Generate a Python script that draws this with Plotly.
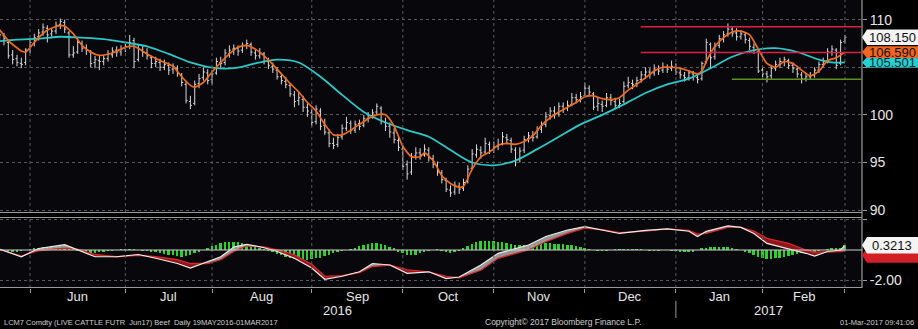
import numpy as np
import pandas as pd
import plotly.graph_objects as go

# ---------------- daily bars, LCM7 live cattle (19 May 2016 - 01 Mar 2017) ----------------
opens = [
    108.9, 108.6, 108.3, 107.6, 106.3, 105.9, 105.4, 105.5, 106.9, 107.5,
    108.2, 108.7, 109.1, 108.5, 108.8, 109.5, 109.7, 108.6, 106.3, 106.6,
    107.5, 107.0, 106.6, 105.5, 105.7, 105.6, 105.9, 106.3, 106.8, 106.6,
    107.0, 107.2, 107.8, 105.8, 106.8, 106.5, 106.0, 105.4, 105.5, 105.0,
    105.2, 104.8, 104.9, 104.2, 103.2, 101.4, 101.2, 103.3, 103.9, 104.4,
    103.7, 104.4, 105.5, 105.5, 106.4, 106.9, 107.0, 106.8, 107.3, 107.4,
    106.5, 106.2, 106.4, 105.6, 105.1, 104.7, 104.0, 103.5, 103.1, 102.1,
    101.5, 101.6, 100.8, 100.2, 99.3, 100.4, 98.9, 98.1, 97.0, 96.9,
    97.7, 98.6, 99.1, 98.4, 99.1, 98.9, 99.6, 99.9, 100.3, 100.7,
    99.2, 98.8, 98.1, 97.3, 96.4, 94.8, 94.0, 95.7, 96.0, 95.8,
    96.3, 95.4, 94.7, 93.9, 93.1, 92.1, 91.9, 92.5, 92.3, 93.0,
    94.4, 95.8, 96.3, 96.1, 96.9, 96.3, 96.7, 97.0, 97.6, 97.3,
    96.3, 95.3, 96.3, 97.5, 97.8, 97.7, 98.5, 99.0, 99.9, 100.4,
    100.1, 100.9, 100.7, 101.1, 101.8, 101.6, 102.0, 102.8, 102.2, 100.9,
    101.1, 101.0, 101.8, 101.4, 101.0, 101.4, 103.1, 103.3, 103.3, 103.7,
    104.2, 104.5, 104.4, 104.8, 104.7, 105.0, 104.9, 105.0, 104.4, 104.1,
    103.9, 104.3, 103.9, 103.8, 105.6, 107.4, 106.1, 107.3, 108.0, 108.5,
    109.0, 108.6, 108.2, 108.4, 107.8, 107.1, 106.6, 104.7, 104.3, 104.1,
    104.9, 105.3, 105.6, 105.7, 105.2, 104.8, 104.2, 103.8, 104.0, 104.2,
    104.7, 105.3, 105.7, 106.6, 106.8, 105.4, 107.7,
]
highs = [
    109.3, 109.0, 108.6, 107.9, 106.8, 106.3, 106.0, 107.0, 107.9, 108.5,
    109.0, 109.6, 109.4, 109.1, 109.8, 110.1, 110.0, 108.8, 107.2, 108.0,
    107.8, 107.4, 106.8, 106.2, 106.3, 106.3, 106.8, 107.1, 107.2, 107.3,
    107.7, 108.4, 108.1, 107.4, 107.3, 107.0, 106.2, 106.1, 105.9, 105.8,
    105.5, 105.4, 105.2, 104.4, 103.5, 102.0, 103.6, 104.3, 105.0, 104.8,
    104.7, 106.0, 106.1, 106.9, 107.3, 107.4, 107.3, 107.6, 107.9, 107.6,
    106.9, 107.0, 106.6, 106.0, 105.5, 105.0, 104.4, 104.0, 103.3, 102.5,
    102.4, 102.0, 101.2, 100.6, 101.0, 100.7, 99.6, 98.5, 97.6, 98.0,
    99.0, 99.8, 99.4, 99.4, 99.5, 100.0, 100.3, 100.6, 101.2, 100.9,
    99.7, 99.2, 98.6, 97.7, 96.8, 95.2, 96.0, 96.6, 96.5, 96.9,
    96.6, 95.8, 95.1, 94.2, 93.4, 92.6, 93.0, 92.9, 93.3, 94.7,
    96.4, 96.9, 96.7, 97.6, 97.2, 97.2, 97.5, 98.2, 98.0, 97.6,
    96.6, 96.6, 97.8, 98.2, 98.3, 98.8, 99.3, 100.3, 100.8, 100.9,
    101.3, 101.3, 101.5, 102.3, 102.2, 102.4, 103.4, 103.1, 102.4, 101.8,
    101.5, 102.3, 102.2, 101.8, 101.7, 103.5, 104.0, 103.7, 104.0, 104.6,
    105.0, 104.9, 105.3, 105.2, 105.5, 105.3, 105.7, 105.4, 104.8, 104.5,
    104.7, 104.6, 104.2, 105.6, 108.0, 107.6, 107.6, 108.4, 108.8, 109.6,
    109.3, 109.1, 108.9, 108.7, 108.1, 107.5, 106.8, 105.1, 104.6, 105.2,
    105.7, 106.0, 106.1, 105.9, 105.5, 105.0, 104.5, 104.4, 104.5, 105.0,
    105.6, 106.0, 107.0, 107.3, 107.0, 107.9, 108.4,
]
lows = [
    108.2, 107.9, 107.3, 105.9, 105.3, 105.1, 104.9, 105.2, 106.5, 107.2,
    107.8, 108.3, 107.6, 108.2, 108.5, 109.0, 108.6, 106.0, 106.0, 106.4,
    106.6, 106.3, 105.0, 104.9, 104.7, 105.2, 105.6, 106.0, 106.1, 106.2,
    106.6, 106.9, 104.9, 105.6, 106.1, 105.8, 104.9, 105.0, 104.6, 104.7,
    104.2, 104.3, 104.0, 103.0, 101.2, 100.6, 101.0, 102.8, 103.6, 103.2,
    103.2, 104.2, 104.8, 105.2, 106.0, 106.3, 106.2, 106.5, 106.9, 106.2,
    105.8, 105.9, 105.3, 104.8, 104.4, 103.7, 103.2, 102.8, 101.9, 100.8,
    101.0, 100.3, 99.8, 98.8, 99.0, 98.4, 97.9, 96.6, 96.4, 96.6,
    97.4, 98.3, 98.0, 98.1, 98.4, 98.7, 99.2, 99.6, 100.0, 99.0,
    98.3, 97.6, 97.0, 96.2, 94.2, 93.2, 93.7, 95.3, 95.3, 95.6,
    95.1, 94.4, 93.6, 92.8, 91.9, 91.4, 91.6, 91.7, 92.0, 92.8,
    94.2, 95.5, 95.4, 95.9, 95.9, 96.0, 96.3, 96.8, 96.9, 96.0,
    94.6, 95.0, 96.0, 97.1, 97.2, 97.5, 98.1, 98.7, 99.5, 99.6,
    99.8, 100.2, 100.4, 100.9, 101.2, 101.3, 101.8, 101.9, 100.5, 100.4,
    100.3, 100.8, 101.0, 100.6, 100.7, 101.2, 102.8, 102.7, 102.9, 103.4,
    103.8, 103.8, 104.1, 104.2, 104.4, 104.4, 104.6, 104.2, 103.8, 103.5,
    103.6, 103.6, 103.3, 103.6, 105.4, 104.9, 105.8, 107.0, 107.6, 108.2,
    108.2, 107.8, 107.9, 107.5, 106.8, 106.4, 104.4, 103.9, 103.4, 103.8,
    104.6, 104.9, 105.1, 104.8, 104.4, 103.9, 103.3, 103.5, 103.7, 103.9,
    104.4, 105.0, 105.4, 106.2, 104.8, 105.2, 107.5,
]
closes = [
    108.6, 108.4, 108.0, 106.2, 105.8, 105.5, 105.3, 106.8, 107.6, 108.1,
    108.6, 109.2, 108.4, 108.8, 109.4, 109.8, 109.0, 106.3, 106.5, 107.6,
    107.0, 106.8, 105.4, 105.8, 105.6, 105.9, 106.4, 106.7, 106.6, 106.9,
    107.2, 107.6, 105.6, 106.9, 106.6, 106.2, 105.4, 105.6, 105.0, 105.3,
    104.7, 105.0, 104.4, 103.4, 101.5, 101.0, 103.2, 103.8, 104.5, 103.6,
    104.3, 105.6, 105.4, 106.5, 106.8, 107.0, 106.7, 107.3, 107.5, 106.6,
    106.2, 106.5, 105.6, 105.2, 104.8, 104.0, 103.6, 103.2, 102.2, 101.4,
    101.8, 100.8, 100.4, 99.2, 100.6, 98.8, 98.2, 97.0, 96.8, 97.6,
    98.6, 99.2, 98.4, 99.0, 98.8, 99.6, 99.9, 100.2, 100.9, 99.3,
    98.8, 98.2, 97.4, 96.6, 94.6, 93.8, 95.6, 96.0, 95.8, 96.4,
    95.5, 94.8, 94.0, 93.2, 92.2, 91.8, 92.6, 92.2, 92.9, 94.3,
    95.9, 96.4, 96.0, 97.0, 96.2, 96.6, 96.9, 97.7, 97.4, 96.4,
    95.2, 96.2, 97.4, 97.8, 97.6, 98.4, 98.9, 99.8, 100.4, 100.0,
    100.9, 100.6, 101.0, 101.8, 101.6, 101.9, 102.8, 102.4, 100.8, 101.2,
    100.9, 101.8, 101.5, 101.0, 101.2, 103.0, 103.4, 103.2, 103.6, 104.2,
    104.5, 104.3, 104.8, 104.6, 105.0, 104.8, 105.1, 104.5, 104.2, 103.9,
    104.4, 104.0, 103.7, 105.4, 107.6, 106.0, 107.2, 108.0, 108.4, 109.0,
    108.6, 108.2, 108.5, 107.9, 107.2, 106.8, 104.6, 104.3, 104.0, 104.9,
    105.3, 105.6, 105.8, 105.2, 104.9, 104.3, 103.8, 104.0, 104.1, 104.7,
    105.3, 105.6, 106.6, 106.9, 105.2, 107.6, 108.15,
]

# moving averages, read at trading-day numbers
fast_day = [0, 1, 3, 6, 7, 9, 10, 12, 15, 16, 18, 20, 22, 24, 27, 30, 32, 35, 38, 41,
            43, 45, 46, 48, 50, 52, 54, 56, 58, 60, 62, 64, 66, 68, 70, 72, 74, 76, 78, 80,
            82, 84, 86, 88, 90, 92, 94, 96, 98, 99, 101, 103, 105, 107, 108, 110, 112, 114, 116, 118,
            120, 122, 124, 126, 128, 130, 132, 134, 136, 138, 140, 142, 144, 146, 148, 150, 152, 154, 156, 158,
            160, 162, 163, 164, 166, 168, 170, 172, 174, 176, 178, 180, 182, 184, 186, 188, 190, 192, 194, 196]
fast_ma = [109.1, 108.9, 107.8, 106.7, 106.6, 107.6, 108.1, 108.9, 109.4, 109.3, 108.5, 107.3, 106.6, 106.25, 106.5, 107.1, 107.2, 106.4, 105.7, 105.1,
           104.0, 103.1, 102.9, 103.4, 104.5, 105.5, 106.4, 107.1, 107.3, 106.9, 106.2, 105.3, 104.3, 103.3, 102.4, 101.3, 100.4, 99.0, 97.9, 97.9,
           98.4, 99.0, 99.6, 100.0, 100.0, 98.8, 96.7, 95.6, 95.6, 96.0, 95.2, 93.6, 92.8, 92.4, 92.5, 94.3, 95.6, 96.1, 96.8, 97.0,
           96.9, 97.2, 97.8, 98.9, 99.7, 100.3, 100.8, 101.3, 101.9, 102.0, 101.7, 101.6, 101.8, 102.6, 103.2, 103.9, 104.6, 105.0, 105.0, 104.9,
           104.6, 104.3, 104.6, 105.6, 107.2, 108.1, 108.7, 108.8, 108.4, 106.9, 105.4, 105.0, 105.6, 105.4, 104.7, 104.1, 104.6, 105.7, 106.0, 106.59]

slow_day = [0, 5, 10, 15, 20, 25, 30, 35, 40, 45, 50, 55, 60, 65, 70, 75, 80, 85, 90, 95,
            100, 105, 110, 115, 120, 125, 130, 135, 140, 145, 150, 155, 160, 165, 170, 175, 180, 185, 190, 193, 196]
slow_ma = [107.7, 107.9, 108.0, 108.2, 108.1, 107.95, 107.6, 107.2, 106.4, 105.5, 104.95, 104.9, 105.4, 105.8, 105.5, 104.0, 102.1, 100.3, 99.2, 98.4,
           97.7, 96.3, 95.0, 94.7, 95.2, 96.4, 97.7, 99.0, 100.0, 101.1, 102.3, 103.2, 103.8, 104.9, 106.1, 106.8, 107.0, 106.6, 105.8, 105.5, 105.501]

# reference levels
resistance = [109.25, 106.55]
support = 103.75

# MACD panel
macd_day = [0, 1, 6, 10, 16, 19, 23, 28, 33, 37, 42, 45, 49, 52, 55, 58, 62, 65, 69, 73,
            76, 80, 84, 87, 91, 95, 100, 104, 107, 112, 116, 123, 127, 132, 136, 140, 144, 150, 155, 160,
            162, 164, 169, 172, 175, 178, 183, 187, 189, 192, 195, 196]
macd_line = [0.1, 0.05, -0.45, 0.1, 0.35, 0.0, -0.45, -0.45, -0.3, -0.55, -0.9, -1.2, -0.8, -0.45, 0.2, 0.38, 0.15, -0.1, -0.55, -1.2,
             -1.95, -1.75, -1.45, -0.9, -1.0, -1.55, -1.45, -1.9, -1.8, -1.0, -0.22, 0.33, 0.9, 1.33, 1.55, 1.3, 1.1, 1.3, 1.4, 1.25,
             0.9, 1.25, 1.6, 1.5, 1.1, 0.44, 0.1, -0.22, -0.4, -0.1, 0.0, 0.3213]
signal_line = [0.1, 0.05, -0.4, -0.05, 0.12, 0.05, -0.3, -0.45, -0.35, -0.45, -0.65, -0.9, -0.9, -0.65, -0.1, 0.27, 0.2, 0.0, -0.33, -0.95,
               -1.75, -1.7, -1.5, -1.1, -1.0, -1.33, -1.45, -1.75, -1.85, -1.35, -0.55, 0.0, 0.55, 1.1, 1.45, 1.35, 1.15, 1.25, 1.4, 1.3,
               1.05, 1.1, 1.5, 1.5, 1.25, 0.78, 0.44, 0.0, -0.15, -0.15, -0.1, -0.05]
macd_hist = [
    0.05, 0.0, -0.05, -0.1, -0.1, -0.1, -0.05, 0.0, 0.05, 0.1,
    0.15, 0.2, 0.22, 0.25, 0.28, 0.3, 0.25, 0.15, 0.05, -0.05,
    -0.1, -0.15, -0.2, -0.18, -0.12, -0.08, -0.05, -0.03, 0.0, 0.02,
    0.03, 0.03, 0.02, 0.0, -0.03, -0.05, -0.1, -0.15, -0.2, -0.25,
    -0.3, -0.35, -0.4, -0.45, -0.4, -0.35, -0.2, -0.1, 0.0, 0.1,
    0.25, 0.35, 0.45, 0.5, 0.55, 0.55, 0.5, 0.45, 0.4, 0.3,
    0.2, 0.1, 0.05, -0.05, -0.15, -0.25, -0.35, -0.45, -0.55, -0.6,
    -0.65, -0.67, -0.65, -0.6, -0.55, -0.5, -0.4, -0.3, -0.2, -0.1,
    -0.05, 0.0, 0.05, 0.15, 0.25, 0.35, 0.42, 0.45, 0.45, 0.4,
    0.3, 0.2, 0.1, -0.1, -0.2, -0.3, -0.33, -0.3, -0.2, -0.1,
    -0.02, 0.0, 0.02, -0.05, -0.15, -0.2, -0.15, -0.05, 0.1, 0.25,
    0.4, 0.5, 0.58, 0.62, 0.62, 0.6, 0.55, 0.5, 0.45, 0.4,
    0.35, 0.3, 0.3, 0.32, 0.35, 0.4, 0.42, 0.45, 0.45, 0.42,
    0.4, 0.38, 0.35, 0.3, 0.25, 0.2, 0.12, 0.05, 0.0, -0.02,
    -0.03, -0.02, 0.0, 0.02, 0.03, 0.05, 0.05, 0.04, 0.03, 0.02,
    0.0, -0.02, -0.03, -0.02, 0.0, 0.0, -0.02, -0.05, -0.1, -0.15,
    -0.15, -0.1, 0.0, 0.1, 0.15, 0.2, 0.2, 0.22, 0.2, 0.18,
    0.12, 0.05, 0.0, -0.1, -0.2, -0.35, -0.45, -0.55, -0.6, -0.6,
    -0.55, -0.5, -0.45, -0.4, -0.3, -0.25, -0.2, -0.15, -0.12, -0.1,
    -0.05, 0.0, 0.05, 0.1, 0.1, 0.15, 0.3,
]

month_names = ["Jan", "Feb", "Mar", "Apr", "May", "Jun", "Jul", "Aug", "Sep", "Oct", "Nov", "Dec"]
exchange_holidays = ["2016-05-30", "2016-07-04", "2016-09-05", "2016-11-24",
                     "2016-12-26", "2017-01-02", "2017-01-16", "2017-02-20"]

# ---------------- trading calendar ----------------
n = len(closes)
days = pd.bdate_range("2016-05-19", "2017-03-01")
days = days[~days.isin(pd.to_datetime(exchange_holidays))][:n]
tday = np.arange(n)

X_RANGE = [1.08, 199.93]
W, H = 918, 329
PLOT_RIGHT = 862 / W


def py(px):
    """pixel row (from top) -> paper y"""
    return 1 - px / H


month_start = [i for i in range(1, n) if days[i].month != days[i - 1].month]
year_start = [i for i in range(1, n) if days[i].year != days[i - 1].year]

BG = "#08080c"
TXT = "#e6e6e6"
FONT = "Liberation Sans, Arial, sans-serif"
GRID = "#5a5a5a"

fig = go.Figure()

# price bars
fig.add_trace(go.Ohlc(
    x=tday, open=opens, high=highs, low=lows, close=closes,
    increasing=dict(line=dict(color="#d8d8d8", width=1)),
    decreasing=dict(line=dict(color="#d8d8d8", width=1)),
    tickwidth=0.35, xaxis="x", yaxis="y", showlegend=False, hoverinfo="skip"))

fig.add_trace(go.Scatter(x=slow_day, y=slow_ma, mode="lines",
                         line=dict(color="#2ac8c8", width=1.8, shape="spline", smoothing=0.8),
                         xaxis="x", yaxis="y", showlegend=False, hoverinfo="skip"))
fig.add_trace(go.Scatter(x=fast_day, y=fast_ma, mode="lines",
                         line=dict(color="#f26a1b", width=1.7, shape="spline", smoothing=0.6),
                         xaxis="x", yaxis="y", showlegend=False, hoverinfo="skip"))

# ---------------- MACD panel ----------------
fig.add_trace(go.Bar(x=tday[:len(macd_hist)], y=macd_hist, width=0.45,
                     marker=dict(color="#27d427", line=dict(width=0)),
                     xaxis="x2", yaxis="y2", showlegend=False, hoverinfo="skip"))

# insert crossing points so the two fills change colour exactly where the lines cross
xs, ma_, sg_ = [], [], []
for i in range(len(macd_day)):
    if i > 0:
        d0 = macd_line[i - 1] - signal_line[i - 1]
        d1 = macd_line[i] - signal_line[i]
        if d0 * d1 < 0:
            t = d0 / (d0 - d1)
            xc = macd_day[i - 1] + t * (macd_day[i] - macd_day[i - 1])
            yc = macd_line[i - 1] + t * (macd_line[i] - macd_line[i - 1])
            xs.append(xc); ma_.append(yc); sg_.append(yc)
    xs.append(macd_day[i]); ma_.append(macd_line[i]); sg_.append(signal_line[i])
ma_ = np.array(ma_); sg_ = np.array(sg_)

for top, col in [(np.maximum(ma_, sg_), "rgba(165,165,165,0.9)"),
                 (np.minimum(ma_, sg_), "rgba(150,22,26,0.95)")]:
    fig.add_trace(go.Scatter(x=xs, y=sg_, mode="lines", line=dict(width=0),
                             xaxis="x2", yaxis="y2", showlegend=False, hoverinfo="skip"))
    fig.add_trace(go.Scatter(x=xs, y=top, mode="lines", line=dict(width=0),
                             fill="tonexty", fillcolor=col,
                             xaxis="x2", yaxis="y2", showlegend=False, hoverinfo="skip"))

fig.add_trace(go.Scatter(x=macd_day, y=signal_line, mode="lines",
                         line=dict(color="#d8262a", width=1.3),
                         xaxis="x2", yaxis="y2", showlegend=False, hoverinfo="skip"))
fig.add_trace(go.Scatter(x=macd_day, y=macd_line, mode="lines",
                         line=dict(color="#ececec", width=1.2),
                         xaxis="x2", yaxis="y2", showlegend=False, hoverinfo="skip"))

# ---------------- shapes ----------------
shapes = []
grid = dict(color=GRID, width=1, dash="dot")
for i in month_start:
    shapes.append(dict(type="line", xref="x", yref="paper", x0=i, x1=i, y0=py(212), y1=1, line=grid))
    shapes.append(dict(type="line", xref="x2", yref="paper", x0=i, x1=i, y0=py(288), y1=py(218), line=grid))

# panel separators
for px in (212.5, 217.5, 287.5):
    shapes.append(dict(type="line", xref="paper", yref="paper", x0=0, x1=PLOT_RIGHT,
                       y0=py(px), y1=py(px), line=dict(color="#9a9a9a", width=1.2)))
shapes.append(dict(type="line", xref="paper", yref="paper", x0=PLOT_RIGHT, x1=PLOT_RIGHT,
                   y0=py(288), y1=1, line=dict(color="#9a9a9a", width=1.2)))

# support / resistance
for lvl in resistance:
    shapes.append(dict(type="line", xref="x", yref="y", x0=148.9, x1=X_RANGE[1], y0=lvl, y1=lvl,
                       line=dict(color="#dc1f45", width=1.5)))
shapes.append(dict(type="line", xref="x", yref="y", x0=169.9, x1=X_RANGE[1], y0=support, y1=support,
                   line=dict(color="#5f8f1c", width=1.5)))

# MACD zero line
shapes.append(dict(type="line", xref="x2", yref="y2", x0=X_RANGE[0], x1=X_RANGE[1], y0=0, y1=0,
                   line=dict(color="#cfcfcf", width=1)))

# year separator under the axis
for i in year_start:
    shapes.append(dict(type="line", xref="x2", yref="paper", x0=i, x1=i, y0=py(318), y1=py(301),
                       line=dict(color="#9a9a9a", width=1)))

annotations = []


def tag(value, yref, half, fill, text_color, label):
    x_tip = PLOT_RIGHT
    x_body = 867 / W
    shapes.append(dict(type="path", xref="paper", yref=yref,
                       path=f"M {x_tip},{value} L {x_body},{value + half} L 1,{value + half} "
                            f"L 1,{value - half} L {x_body},{value - half} Z",
                       fillcolor=fill, line=dict(width=0)))
    if label:
        annotations.append(dict(xref="paper", yref=yref, x=(867 + 917) / 2 / W, y=value, text=label,
                                showarrow=False, xanchor="center", yanchor="middle",
                                font=dict(family=FONT, size=13, color=text_color)))


tag(slow_ma[-1], "y", 0.55, "#25cfd2", "#0d2a2a", f"{slow_ma[-1]:.3f}")
tag(fast_ma[-1], "y", 0.62, "#f0661e", "#111111", f"{fast_ma[-1]:.3f}")
tag(closes[-1], "y", 0.82, "#f4f4f4", "#111111", f"{closes[-1]:.3f}")
tag(signal_line[-1] - 0.3, "y2", 0.5, "#d21f26", "#f0f0f0", "")
tag(macd_line[-1], "y2", 0.55, "#f4f4f4", "#111111", f"{macd_line[-1]:.4f}")

# month labels centred inside each month
bounds = month_start
for a, b in zip(bounds[:-1], bounds[1:]):
    annotations.append(dict(xref="x2", yref="paper", x=(a + b) / 2, y=py(296),
                            xanchor="center", yanchor="middle",
                            text=month_names[days[a].month - 1], showarrow=False,
                            font=dict(family=FONT, size=13, color=TXT)))
# year labels centred on the visible part of each year
edges = [X_RANGE[0]] + year_start + [X_RANGE[1]]
for a, b in zip(edges[:-1], edges[1:]):
    yr = days[int(np.ceil(a))].year
    annotations.append(dict(xref="x2", yref="paper", x=(a + b) / 2, y=py(310),
                            xanchor="center", yanchor="middle",
                            text=str(yr), showarrow=False,
                            font=dict(family=FONT, size=13, color=TXT)))

foot_small = dict(family=FONT, size=7.5, color="#cfcfcf")
annotations.append(dict(xref="paper", yref="paper", x=2 / W, y=py(322), xanchor="left", yanchor="middle",
                        text="LCM7 Comdty (LIVE CATTLE FUTR&nbsp;&nbsp;Jun17) Beef&nbsp;&nbsp;Daily 19MAY2016-01MAR2017",
                        showarrow=False, font=foot_small))
annotations.append(dict(xref="paper", yref="paper", x=483 / W, y=py(322), xanchor="left", yanchor="middle",
                        text="Copyright© 2017 Bloomberg Finance L.P.", showarrow=False,
                        font=dict(family=FONT, size=8.5, color="#cfcfcf")))
annotations.append(dict(xref="paper", yref="paper", x=916 / W, y=py(322), xanchor="right", yanchor="middle",
                        text="01-Mar-2017 09:41:06", showarrow=False, font=foot_small))

axis_font = dict(family=FONT, size=14, color=TXT)
fig.update_layout(
    width=W, height=H, autosize=False,
    margin=dict(l=0, r=0, t=0, b=0, pad=0, autoexpand=False),
    paper_bgcolor="#000000",
    plot_bgcolor=BG,
    bargap=0,
    xaxis=dict(domain=[0, PLOT_RIGHT], range=X_RANGE, anchor="y", showgrid=False, zeroline=False,
               showticklabels=False, rangeslider=dict(visible=False), fixedrange=True, automargin=False),
    xaxis2=dict(domain=[0, PLOT_RIGHT], range=X_RANGE, anchor="y2", showgrid=False, zeroline=False,
                showticklabels=False, ticks="outside", tickvals=month_start, ticklen=4,
                tickcolor="#9a9a9a", matches="x", rangeslider=dict(visible=False), automargin=False),
    yaxis=dict(domain=[py(212), 1], range=[89.8, 112.06], side="right", anchor="x",
               tickvals=[90, 95, 100, 105, 110], ticktext=["90", "95", "100", "", "110"],
               ticks="outside", ticklen=4, tickcolor="#9a9a9a", tickfont=axis_font,
               showgrid=True, gridcolor=GRID, griddash="dot", gridwidth=1, zeroline=False, automargin=False),
    yaxis2=dict(domain=[py(288), py(218)], range=[-2.53, 2.13], side="right", anchor="x2",
                tickvals=[-2, 2], ticktext=["-2.00", ""],
                ticks="outside", ticklen=4, tickcolor="#9a9a9a", tickfont=axis_font,
                showgrid=True, gridcolor=GRID, griddash="dot", gridwidth=1, zeroline=False, automargin=False),
    shapes=shapes,
    annotations=annotations,
)

fig.write_html("out.html")
